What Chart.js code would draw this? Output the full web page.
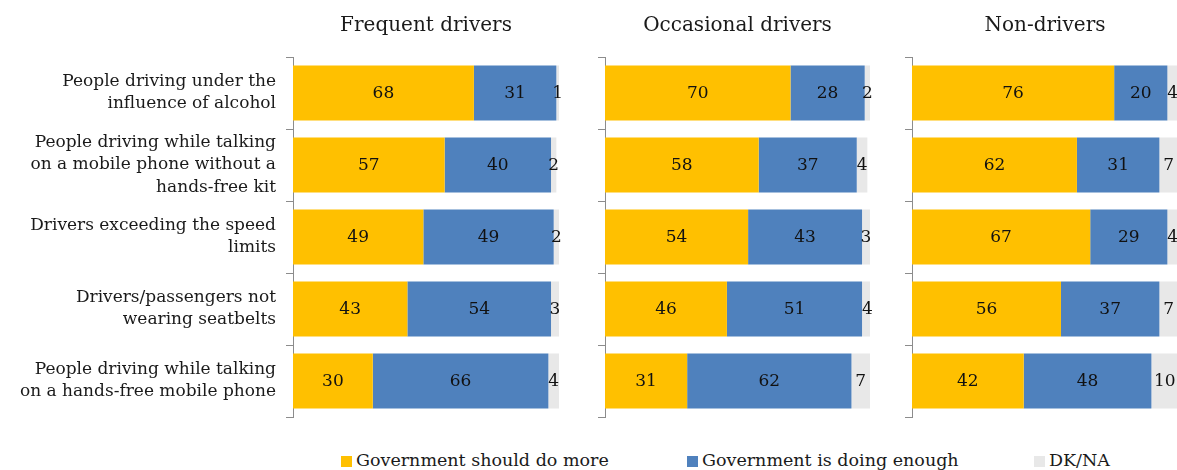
<!DOCTYPE html>
<html>
<head>
<meta charset="utf-8">
<script src="https://cdn.jsdelivr.net/npm/chart.js@4.4.1/dist/chart.umd.min.js"></script>
<style>
  html, body { margin: 0; padding: 0; background: #fff; overflow: hidden; }
  #wrap { position: relative; width: 1177px; height: 470px; overflow: hidden; }
  .panel { position: absolute; top: 0; height: 422px; }
  .panel canvas { display: block; }
  #legend { position: absolute; left: 0; top: 450px; width: 1177px; height: 24px;
            font-family: "DejaVu Serif", serif; font-size: 17.5px; color: #1a1a1a; }
  .item { position: absolute; top: 0; white-space: nowrap; }
  .swatch { display: inline-block; width: 11px; height: 11px; margin-right: 4px; vertical-align: -1px; }
</style>
</head>
<body>
<div id="wrap">
  <div class="panel" style="left:0; width:570px;"><canvas id="panelFrequent"></canvas></div>
  <div class="panel" style="left:580px; width:300px;"><canvas id="panelOccasional"></canvas></div>
  <div class="panel" style="left:890px; width:290px;"><canvas id="panelNon"></canvas></div>
  <div id="legend"></div>
</div>
<script>
// statements shown on the left, one row each
var categories = [
    ['People driving under the', 'influence of alcohol'],
    ['People driving while talking', 'on a mobile phone without a', 'hands-free kit'],
    ['Drivers exceeding the speed', 'limits'],
    ['Drivers/passengers not', 'wearing seatbelts'],
    ['People driving while talking', 'on a hands-free mobile phone']
];

var seriesNames = ['Government should do more', 'Government is doing enough', 'DK/NA'];
var groupTitles = ['Frequent drivers', 'Occasional drivers', 'Non-drivers'];

// percentages per group
var frequentMore = [68, 57, 49, 43, 30];
var frequentEnough = [31, 40, 49, 54, 66];
var frequentDk = [1, 2, 2, 3, 4];

var occasionalMore = [70, 58, 54, 46, 31];
var occasionalEnough = [28, 37, 43, 51, 62];
var occasionalDk = [2, 4, 3, 4, 7];

var nonMore = [76, 62, 67, 56, 42];
var nonEnough = [20, 31, 29, 37, 48];
var nonDk = [4, 7, 4, 7, 10];

var colors = ['#FFC000', '#4F81BD', '#E8E8E8'];
var serif = '"DejaVu Serif", serif';

// write the value in the middle of every segment
var segmentLabels = {
    id: 'segmentLabels',
    afterDatasetsDraw: function (chart) {
        var ctx = chart.ctx;
        ctx.save();
        ctx.font = '17px ' + serif;
        ctx.fillStyle = '#111';
        ctx.textAlign = 'center';
        ctx.textBaseline = 'middle';
        chart.data.datasets.forEach(function (ds, i) {
            chart.getDatasetMeta(i).data.forEach(function (bar, j) {
                ctx.fillText(ds.data[j], (bar.x + bar.base) / 2, bar.y + 1);
            });
        });
        ctx.restore();
    }
};

function makePanel(id, title, more, enough, dk, axisWidth, rightPad, showLabels) {
    var values = [more, enough, dk];
    new Chart(document.getElementById(id), {
        type: 'bar',
        data: {
            labels: categories,
            datasets: values.map(function (v, i) {
                return {
                    label: seriesNames[i],
                    data: v,
                    backgroundColor: colors[i],
                    borderWidth: 0,
                    categoryPercentage: 1,
                    barPercentage: 0.765
                };
            })
        },
        options: {
            indexAxis: 'y',
            responsive: true,
            maintainAspectRatio: false,
            animation: false,
            layout: { padding: { left: 0, right: rightPad, top: 0, bottom: 5 } },
            plugins: {
                legend: { display: false },
                tooltip: { enabled: false },
                title: {
                    display: true,
                    text: title,
                    fullSize: false,
                    color: '#1a1a1a',
                    font: { family: serif, size: 20, weight: 'normal' },
                    padding: { top: 14, bottom: 19 }
                }
            },
            scales: {
                x: { display: false, stacked: true, min: 0, max: 100 },
                y: {
                    stacked: true,
                    afterFit: function (scale) {
                        // fixed label column, no extra room for overhanging labels
                        scale.width = axisWidth;
                        scale.paddingTop = 0;
                        scale.paddingBottom = 0;
                    },
                    border: { display: true, color: '#8c8c8c', width: 1 },
                    grid: { offset: true, drawOnChartArea: false, drawTicks: true, tickLength: 7, color: '#8c8c8c' },
                    ticks: {
                        display: showLabels,
                        autoSkip: false,
                        padding: 10,
                        color: '#1a1a1a',
                        font: { family: serif, size: 17, lineHeight: 1.3 }
                    }
                }
            }
        },
        plugins: [segmentLabels]
    });
}

makePanel('panelFrequent', groupTitles[0], frequentMore, frequentEnough, frequentDk, 293, 11, true);
makePanel('panelOccasional', groupTitles[1], occasionalMore, occasionalEnough, occasionalDk, 25, 10, false);
makePanel('panelNon', groupTitles[2], nonMore, nonEnough, nonDk, 22, 2, false);

// legend row under the panels
var legendLeft = [341, 687, 1034];
var legend = document.getElementById('legend');
seriesNames.forEach(function (name, i) {
    var item = document.createElement('span');
    item.className = 'item';
    item.style.left = legendLeft[i] + 'px';
    var sw = document.createElement('span');
    sw.className = 'swatch';
    sw.style.background = colors[i];
    item.appendChild(sw);
    item.appendChild(document.createTextNode(name));
    legend.appendChild(item);
});
</script>
</body>
</html>
